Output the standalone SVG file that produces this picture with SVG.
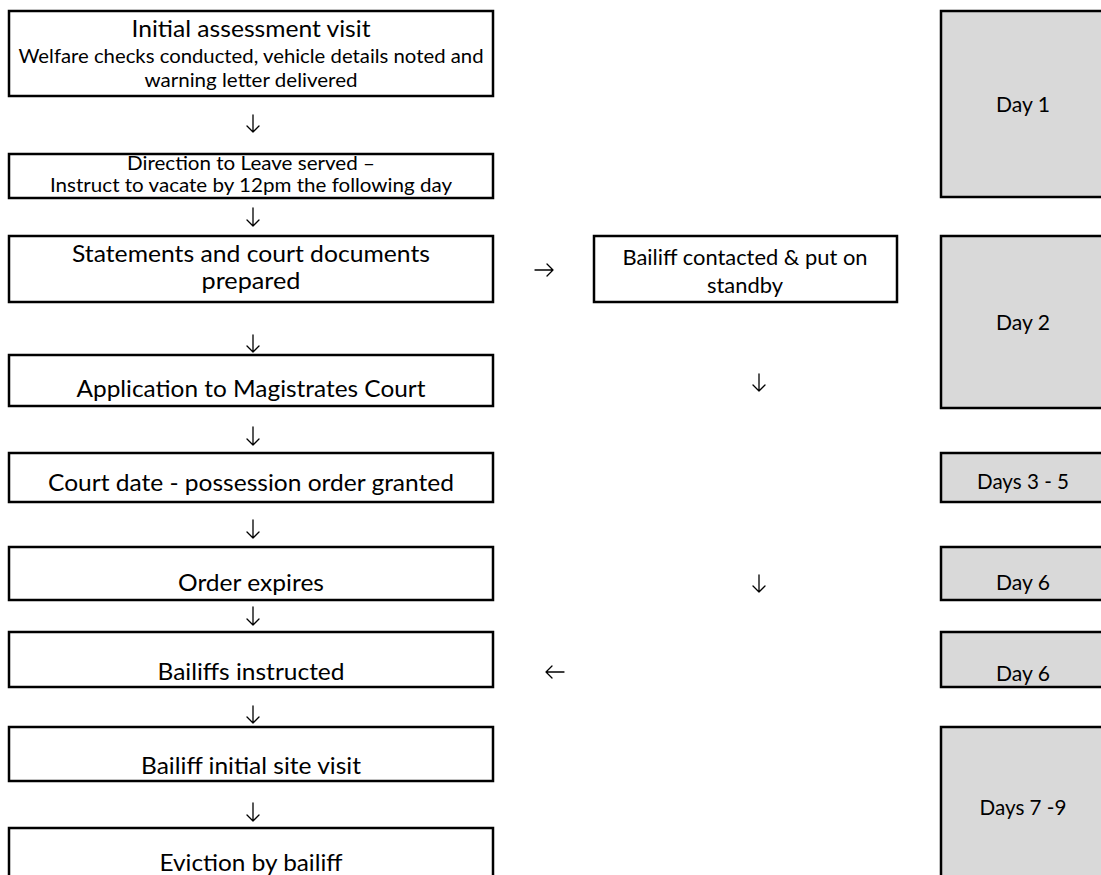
<svg xmlns="http://www.w3.org/2000/svg" width="1101" height="875" viewBox="0 0 1101 875">
<style>
.box{fill:#ffffff;stroke:#000000;stroke-width:2.5}
.day{fill:#d9d9d9;stroke:#000000;stroke-width:2.5}
text{font-family:Lato,"Liberation Sans",sans-serif;fill:#000000;text-anchor:middle}
.b{font-size:23px}
.m{font-size:20px}
.s{font-size:19px}
.d{font-size:21px}
.arr{fill:none;stroke:#000000;stroke-width:1.3;stroke-linecap:round;stroke-linejoin:round}
</style>
<rect x="0" y="0" width="1101" height="875" fill="#ffffff"/>
<g id="n1">
<rect class="box" x="9" y="11" width="484" height="85"/>
<text class="b" x="251" y="37" textLength="239" lengthAdjust="spacingAndGlyphs">Initial assessment visit</text>
<text class="s" x="251" y="63" textLength="465" lengthAdjust="spacingAndGlyphs">Welfare checks conducted, vehicle details noted and</text>
<text class="s" x="251" y="87" textLength="213" lengthAdjust="spacingAndGlyphs">warning letter delivered</text>
</g>
<g id="n2">
<rect class="box" x="9" y="154" width="484" height="44"/>
<text class="m" x="251" y="170" textLength="248" lengthAdjust="spacingAndGlyphs">Direction to Leave served –</text>
<text class="s" x="251" y="192" textLength="402" lengthAdjust="spacingAndGlyphs">Instruct to vacate by 12pm the following day</text>
</g>
<g id="n3">
<rect class="box" x="9" y="236" width="484" height="66"/>
<text class="b" x="251" y="262" textLength="358" lengthAdjust="spacingAndGlyphs">Statements and court documents</text>
<text class="b" x="251" y="289" textLength="99" lengthAdjust="spacingAndGlyphs">prepared</text>
</g>
<g id="n4">
<rect class="box" x="9" y="355" width="484" height="51"/>
<text class="b" x="251" y="397" textLength="349" lengthAdjust="spacingAndGlyphs">Application to Magistrates Court</text>
</g>
<g id="n5">
<rect class="box" x="9" y="453" width="484" height="49"/>
<text class="b" x="251" y="491" textLength="406" lengthAdjust="spacingAndGlyphs">Court date - possession order granted</text>
</g>
<g id="n6">
<rect class="box" x="9" y="547" width="484" height="53"/>
<text class="b" x="251" y="591" textLength="146" lengthAdjust="spacingAndGlyphs">Order expires</text>
</g>
<g id="n7">
<rect class="box" x="9" y="632" width="484" height="55"/>
<text class="b" x="251" y="680" textLength="187" lengthAdjust="spacingAndGlyphs">Bailiffs instructed</text>
</g>
<g id="n8">
<rect class="box" x="9" y="727" width="484" height="54"/>
<text class="b" x="251" y="774" textLength="220" lengthAdjust="spacingAndGlyphs">Bailiff initial site visit</text>
</g>
<g id="n9">
<rect class="box" x="9" y="828" width="484" height="60"/>
<text class="b" x="251" y="871" textLength="183" lengthAdjust="spacingAndGlyphs">Eviction by bailiff</text>
</g>
<g id="bailiff">
<rect class="box" x="594" y="236" width="303" height="66"/>
<text class="d" x="745" y="265" textLength="245" lengthAdjust="spacingAndGlyphs">Bailiff contacted &amp; put on</text>
<text class="d" x="745" y="293" textLength="76" lengthAdjust="spacingAndGlyphs">standby</text>
</g>
<g id="day1">
<rect class="day" x="941" y="11" width="170" height="186"/>
<text class="d" x="1023" y="112" textLength="54" lengthAdjust="spacingAndGlyphs">Day 1</text>
</g>
<g id="day2">
<rect class="day" x="941" y="236" width="170" height="172"/>
<text class="d" x="1023" y="330" textLength="54" lengthAdjust="spacingAndGlyphs">Day 2</text>
</g>
<g id="days3-5">
<rect class="day" x="941" y="453" width="170" height="49"/>
<text class="d" x="1023" y="489" textLength="92" lengthAdjust="spacingAndGlyphs">Days 3 - 5</text>
</g>
<g id="day6a">
<rect class="day" x="941" y="547" width="170" height="53"/>
<text class="d" x="1023" y="590" textLength="54" lengthAdjust="spacingAndGlyphs">Day 6</text>
</g>
<g id="day6b">
<rect class="day" x="941" y="632" width="170" height="55"/>
<text class="d" x="1023" y="681" textLength="54" lengthAdjust="spacingAndGlyphs">Day 6</text>
</g>
<g id="days7-9">
<rect class="day" x="941" y="727" width="170" height="160"/>
<text class="d" x="1023" y="815" textLength="87" lengthAdjust="spacingAndGlyphs">Days 7 -9</text>
</g>
<g id="connectors">
<path class="arr" d="M253,115 V132 M247,126 L253,132 L259,126"/>
<path class="arr" d="M253,208 V226 M247,220 L253,226 L259,220"/>
<path class="arr" d="M253,335 V352 M247,346 L253,352 L259,346"/>
<path class="arr" d="M253,427 V445 M247,439 L253,445 L259,439"/>
<path class="arr" d="M253,520 V538 M247,532 L253,538 L259,532"/>
<path class="arr" d="M253,607 V625 M247,619 L253,625 L259,619"/>
<path class="arr" d="M253,706 V723 M247,717 L253,723 L259,717"/>
<path class="arr" d="M253,803 V821 M247,815 L253,821 L259,815"/>
<path class="arr" d="M535,270 H553 M547,264 L553,270 L547,276"/>
<path class="arr" d="M759,374 V391 M753,385 L759,391 L765,385"/>
<path class="arr" d="M759,575 V592 M753,586 L759,592 L765,586"/>
<path class="arr" d="M564,672 H546 M552,666 L546,672 L552,678"/>
</g>
</svg>
